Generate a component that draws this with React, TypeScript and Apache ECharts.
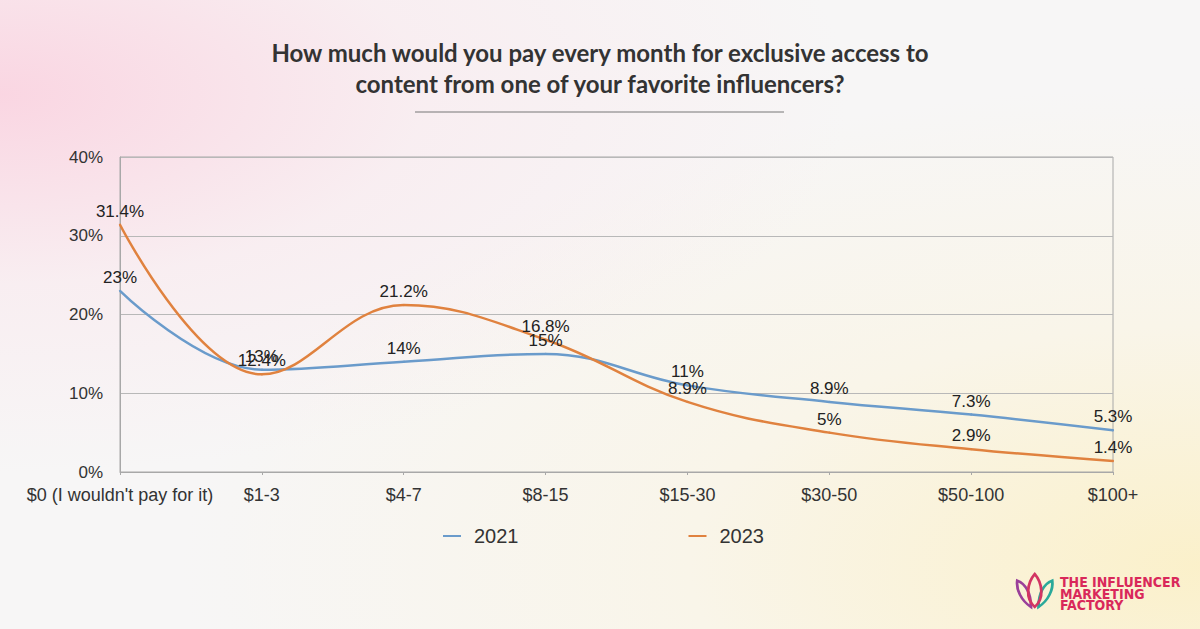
import React, { useEffect, useRef } from "react";
import * as echarts from "echarts";

const categories = ["$0 (I wouldn't pay for it)", "$1-3", "$4-7", "$8-15", "$15-30", "$30-50", "$50-100", "$100+"];
const values2021 = [23, 13, 14, 15, 11, 8.9, 7.3, 5.3];
const values2023 = [31.4, 12.4, 21.2, 16.8, 8.9, 5, 2.9, 1.4];
const seriesNames = ["2021", "2023"];
const titleLines = ["How much would you pay every month for exclusive access to", "content from one of your favorite influencers?"];
const logoLines = ["THE INFLUENCER", "MARKETING", "FACTORY"];

const FONT = "Liberation Sans, Arial, sans-serif";

export default function App() {
  const ref = useRef<HTMLDivElement>(null);
  useEffect(() => {
    if (!ref.current) return;
    echarts.graphic.registerShape(
      "petalL",
      echarts.graphic.extendPath("M12 30 C4 24 0 14 1 6 C8 9 12 18 12 30 Z", {})
    );
    echarts.graphic.registerShape(
      "petalR",
      echarts.graphic.extendPath("M18 30 C26 24 30 14 29 6 C22 9 18 18 18 30 Z", {})
    );
    echarts.graphic.registerShape(
      "petalC",
      echarts.graphic.extendPath("M15 30 C7 22 9 8 15 0 C21 8 23 22 15 30 Z", {})
    );
    const chart = echarts.init(ref.current, undefined, { renderer: "svg" });
    const labelStyle = {
      show: true,
      position: "top" as const,
      formatter: "{c}%",
      fontSize: 17,
      color: "#222",
      fontFamily: FONT,
      distance: 4,
    };
    chart.setOption({
      animation: false,
      backgroundColor: "transparent",
      grid: {
        left: 120,
        right: 87,
        top: 157,
        bottom: 157,
        show: true,
        borderColor: "#a8a8a8",
        borderWidth: 1,
        backgroundColor: "transparent",
      },
      legend: {
        data: seriesNames,
        left: 438,
        top: 521,
        itemGap: 170,
        itemWidth: 18,
        itemHeight: 2,
        icon: "rect",
        textStyle: { fontSize: 20, color: "#333", fontFamily: FONT, padding: [0, 0, 0, 8] },
      },
      xAxis: {
        type: "category",
        data: categories,
        boundaryGap: false,
        axisLine: { lineStyle: { color: "#a8a8a8" } },
        axisTick: { show: true, length: 3, lineStyle: { color: "#a8a8a8" } },
        axisLabel: {
          color: "#333",
          fontSize: 18,
          margin: 14,
          fontFamily: FONT,
          interval: 0,
        },
      },
      yAxis: {
        type: "value",
        min: 0,
        max: 40,
        interval: 10,
        axisLine: { show: true, lineStyle: { color: "#a8a8a8" } },
        axisTick: { show: false },
        splitLine: { lineStyle: { color: "#b8b8b8" } },
        axisLabel: {
          formatter: "{value}%",
          color: "#333",
          fontSize: 17,
          margin: 17,
          fontFamily: FONT,
        },
      },
      series: [
        {
          name: seriesNames[0],
          type: "line",
          data: values2021,
          smooth: 0.4,
          symbol: "circle",
          symbolSize: 2,
          lineStyle: { color: "#6a9bcb", width: 2.5 },
          itemStyle: { color: "#6a9bcb" },
          label: labelStyle,
        },
        {
          name: seriesNames[1],
          type: "line",
          data: values2023,
          smooth: 0.4,
          symbol: "circle",
          symbolSize: 2,
          lineStyle: { color: "#e0823f", width: 2.5 },
          itemStyle: { color: "#e0823f" },
          label: labelStyle,
        },
      ],
      graphic: [
        ...titleLines.map((t, i) => ({
          type: "text",
          x: 600,
          y: 52 + i * 31,
          style: {
            text: t,
            fontSize: 24,
            fontWeight: "bold",
            fill: "#333",
            align: "center",
            verticalAlign: "middle",
            fontFamily: "Lato, Noto Sans, sans-serif",
          },
        })),
        {
          type: "line",
          shape: { x1: 415, y1: 112, x2: 784, y2: 112 },
          style: { stroke: "#777", lineWidth: 1 },
        },
        {
          type: "group",
          x: 1016,
          y: 574,
          scaleX: 1.25,
          scaleY: 1.1,
          children: [
            { type: "petalL", style: { fill: "none", stroke: "#9a3f9a", lineWidth: 2.2 } },
            { type: "petalR", style: { fill: "none", stroke: "#2aa99a", lineWidth: 2.2 } },
            { type: "petalC", style: { fill: "none", stroke: "#d23563", lineWidth: 2.2 } },
          ],
        },
        ...logoLines.map((t, i) => ({
          type: "text",
          x: 1060,
          y: 582 + i * 11.5,
          style: {
            text: t,
            fontSize: 14,
            lineHeight: 11,
            fontWeight: "bold",
            fill: "#d9285a",
            verticalAlign: "middle",
            fontFamily: "Liberation Sans Narrow, DejaVu Sans Condensed, sans-serif",
          },
        })),
      ],
    });
    return () => chart.dispose();
  }, []);
  return (
    <div
      style={{
        position: "fixed",
        left: 0,
        top: 0,
        width: 1200,
        height: 629,
        background:
          "radial-gradient(ellipse at 0% 15%, rgba(250,212,225,0.95) 0%, rgba(250,228,235,0.45) 25%, rgba(255,255,255,0) 50%), radial-gradient(ellipse at 100% 90%, rgba(251,240,200,0.95) 0%, rgba(251,244,220,0.5) 30%, rgba(255,255,255,0) 60%), #f7f6f6",
      }}
    >
      <div ref={ref} style={{ width: 1200, height: 629 }} />
    </div>
  );
}
